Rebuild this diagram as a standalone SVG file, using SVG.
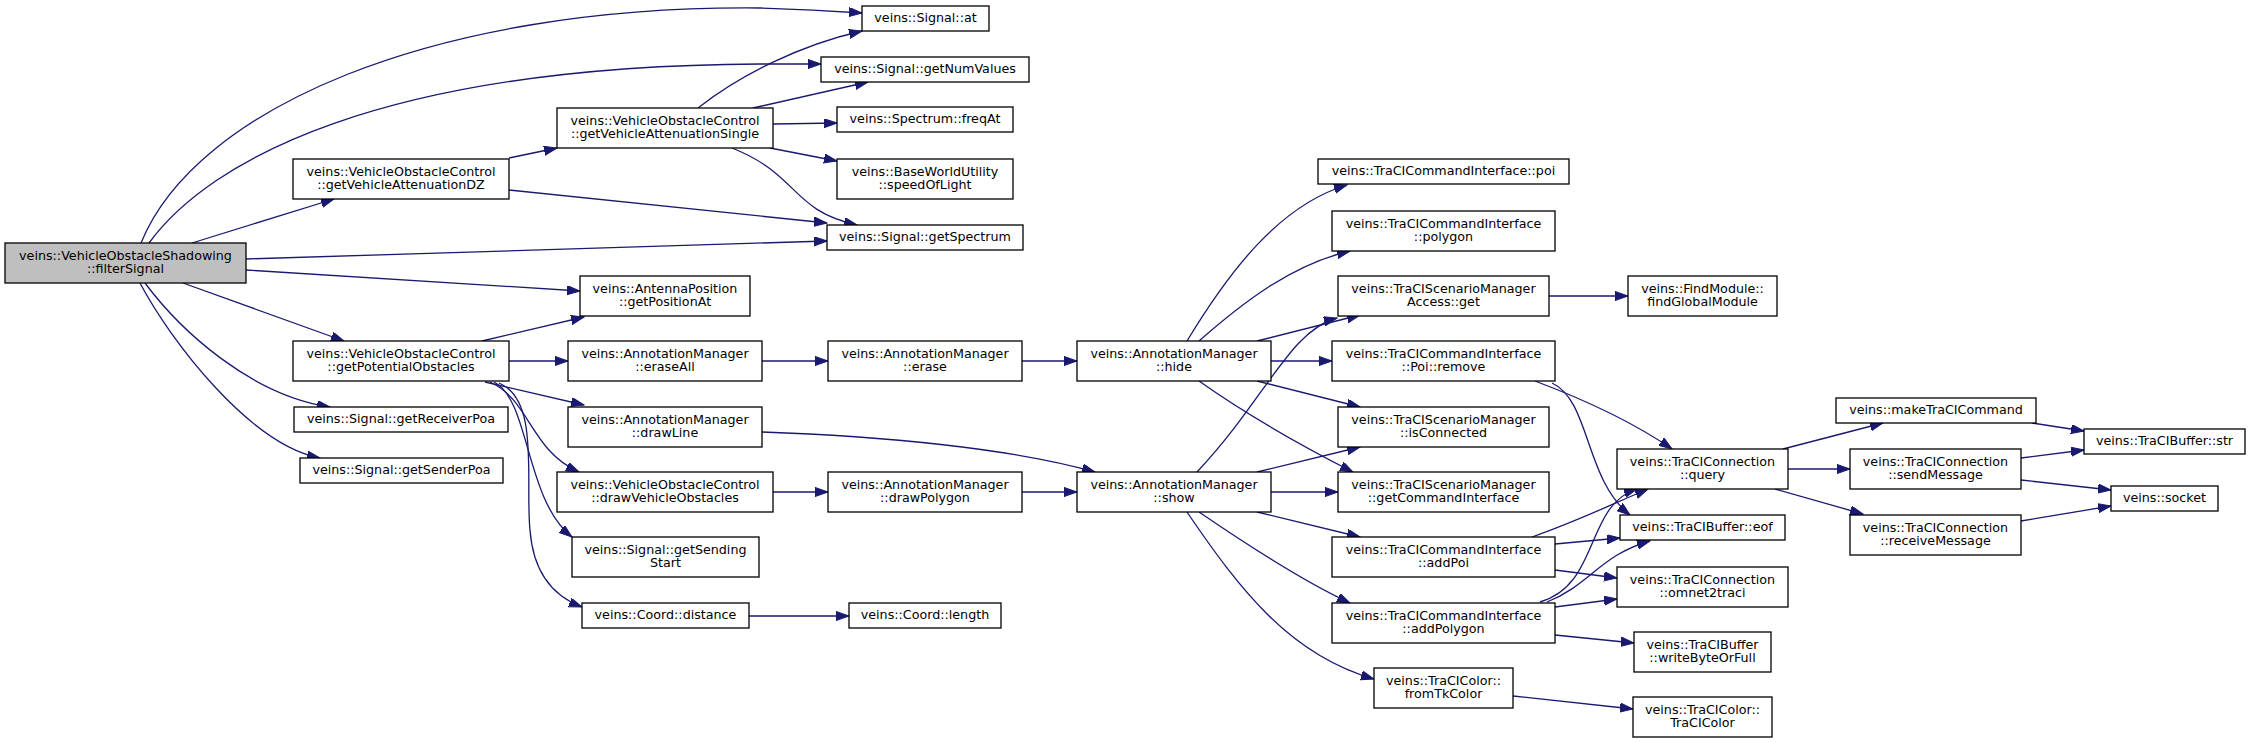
<svg xmlns="http://www.w3.org/2000/svg" width="2251" height="743" viewBox="0 0 2251 743">
<style>
.n rect{fill:#fff;stroke:#000;stroke-width:1.3}
.n.root rect{fill:#bfbfbf}
.n text{font-family:"DejaVu Sans","Liberation Sans",sans-serif;font-size:12.7px;fill:#000;text-anchor:middle}
.e path{fill:none;stroke:#191970;stroke-width:1.3;marker-end:url(#arr)}
</style>
<defs>
<marker id="arr" markerUnits="userSpaceOnUse" markerWidth="14" markerHeight="10" refX="13" refY="4.6" orient="auto">
<path d="M0,0 L13,4.6 L0,9.2 z" fill="#191970" stroke="#191970" stroke-width="1"/>
</marker>
</defs>
<rect width="2251" height="743" fill="#fff"/>
<g id="connectors" class="e">
<path d="M141,243 C195,110 430,5 760,8 C800,9 835,11 862,13"/>
<path d="M149,243 C210,160 380,66 760,64 L821,64"/>
<path d="M192,243 L334,199"/>
<path d="M246,259 L827,241"/>
<path d="M246,270 L580,291"/>
<path d="M183,283 L344,341"/>
<path d="M145,283 C180,330 250,395 330,407"/>
<path d="M140,283 C170,340 250,445 320,458"/>
<path d="M509,158 L557,148"/>
<path d="M509,190 L827,223"/>
<path d="M698,108 C740,75 800,45 862,31"/>
<path d="M753,108 L868,82"/>
<path d="M773,124 L837,123"/>
<path d="M770,148 L837,161"/>
<path d="M732,148 C800,175 790,210 857,225"/>
<path d="M482,341 L584,317"/>
<path d="M509,361 L568,361"/>
<path d="M485,382 L584,405"/>
<path d="M490,382 C530,400 530,450 579,472"/>
<path d="M494,382 C530,400 525,500 572,537"/>
<path d="M499,383 C540,400 525,480 530,530 C533,570 550,595 582,607"/>
<path d="M762,361 L828,361"/>
<path d="M1022,361 L1077,361"/>
<path d="M762,432 C880,436 1010,448 1095,472"/>
<path d="M773,492 L828,492"/>
<path d="M1022,492 L1077,492"/>
<path d="M749,616 L849,616"/>
<path d="M1187,341 C1230,270 1280,205 1347,185"/>
<path d="M1199,341 C1240,305 1290,265 1350,251"/>
<path d="M1257,341 L1360,315"/>
<path d="M1271,361 L1332,361"/>
<path d="M1257,381 L1360,407"/>
<path d="M1199,381 C1240,410 1300,445 1353,472"/>
<path d="M1197,472 C1265,400 1290,330 1337,318"/>
<path d="M1257,472 L1360,447"/>
<path d="M1271,492 L1338,492"/>
<path d="M1257,512 L1360,537"/>
<path d="M1199,512 C1240,540 1300,580 1350,603"/>
<path d="M1187,512 C1240,590 1290,655 1374,679"/>
<path d="M1535,381 C1580,398 1630,420 1672,449"/>
<path d="M1552,383 C1590,400 1585,480 1630,515"/>
<path d="M1532,537 C1580,520 1610,505 1648,489"/>
<path d="M1555,544 L1620,538"/>
<path d="M1555,570 L1617,578"/>
<path d="M1540,602 C1600,585 1585,505 1637,489"/>
<path d="M1547,602 C1590,585 1600,555 1650,541"/>
<path d="M1555,607 L1617,599"/>
<path d="M1555,635 L1634,643"/>
<path d="M1513,696 L1633,709"/>
<path d="M1783,449 L1883,423"/>
<path d="M1788,469 L1850,469"/>
<path d="M1775,489 L1863,514"/>
<path d="M2032,423 L2084,431"/>
<path d="M2021,458 L2084,450"/>
<path d="M2021,480 L2111,490"/>
<path d="M2021,521 L2111,506"/>
<path d="M1549,296 L1628,296"/>
</g>
<g id="n_filterSignal" class="n root"><rect x="5" y="243" width="241" height="40"/><text x="125.5" y="259.5">veins::VehicleObstacleShadowing</text><text x="125.5" y="273">::filterSignal</text></g>
<g id="n_attDZ" class="n"><rect x="293" y="159" width="216" height="40"/><text x="401" y="175.5">veins::VehicleObstacleControl</text><text x="401" y="189">::getVehicleAttenuationDZ</text></g>
<g id="n_attSingle" class="n"><rect x="557" y="108" width="216" height="40"/><text x="665" y="124.5">veins::VehicleObstacleControl</text><text x="665" y="138">::getVehicleAttenuationSingle</text></g>
<g id="n_at" class="n"><rect x="862" y="6" width="127" height="25"/><text x="925.5" y="22">veins::Signal::at</text></g>
<g id="n_numValues" class="n"><rect x="821" y="57" width="208" height="25"/><text x="925" y="73">veins::Signal::getNumValues</text></g>
<g id="n_freqAt" class="n"><rect x="837" y="107" width="176" height="25"/><text x="925" y="123">veins::Spectrum::freqAt</text></g>
<g id="n_speedOfLight" class="n"><rect x="837" y="159" width="176" height="40"/><text x="925" y="175.5">veins::BaseWorldUtility</text><text x="925" y="189">::speedOfLight</text></g>
<g id="n_getSpectrum" class="n"><rect x="827" y="225" width="196" height="25"/><text x="925" y="241">veins::Signal::getSpectrum</text></g>
<g id="n_antenna" class="n"><rect x="580" y="276" width="170" height="40"/><text x="665" y="292.5">veins::AntennaPosition</text><text x="665" y="306">::getPositionAt</text></g>
<g id="n_potObst" class="n"><rect x="293" y="341" width="216" height="40"/><text x="401" y="357.5">veins::VehicleObstacleControl</text><text x="401" y="371">::getPotentialObstacles</text></g>
<g id="n_eraseAll" class="n"><rect x="568" y="341" width="194" height="40"/><text x="665" y="357.5">veins::AnnotationManager</text><text x="665" y="371">::eraseAll</text></g>
<g id="n_receiverPoa" class="n"><rect x="294" y="407" width="214" height="25"/><text x="401" y="423">veins::Signal::getReceiverPoa</text></g>
<g id="n_senderPoa" class="n"><rect x="300" y="458" width="203" height="25"/><text x="401.5" y="474">veins::Signal::getSenderPoa</text></g>
<g id="n_drawLine" class="n"><rect x="568" y="407" width="194" height="40"/><text x="665" y="423.5">veins::AnnotationManager</text><text x="665" y="437">::drawLine</text></g>
<g id="n_drawVehObs" class="n"><rect x="557" y="472" width="216" height="40"/><text x="665" y="488.5">veins::VehicleObstacleControl</text><text x="665" y="502">::drawVehicleObstacles</text></g>
<g id="n_sendingStart" class="n"><rect x="572" y="537" width="187" height="40"/><text x="665.5" y="553.5">veins::Signal::getSending</text><text x="665.5" y="567">Start</text></g>
<g id="n_distance" class="n"><rect x="582" y="603" width="167" height="25"/><text x="665.5" y="619">veins::Coord::distance</text></g>
<g id="n_length" class="n"><rect x="849" y="603" width="152" height="25"/><text x="925" y="619">veins::Coord::length</text></g>
<g id="n_erase" class="n"><rect x="828" y="341" width="194" height="40"/><text x="925" y="357.5">veins::AnnotationManager</text><text x="925" y="371">::erase</text></g>
<g id="n_drawPolygon" class="n"><rect x="828" y="472" width="194" height="40"/><text x="925" y="488.5">veins::AnnotationManager</text><text x="925" y="502">::drawPolygon</text></g>
<g id="n_hide" class="n"><rect x="1077" y="341" width="194" height="40"/><text x="1174" y="357.5">veins::AnnotationManager</text><text x="1174" y="371">::hide</text></g>
<g id="n_show" class="n"><rect x="1077" y="472" width="194" height="40"/><text x="1174" y="488.5">veins::AnnotationManager</text><text x="1174" y="502">::show</text></g>
<g id="n_poi" class="n"><rect x="1318" y="159" width="251" height="25"/><text x="1443.5" y="175">veins::TraCICommandInterface::poi</text></g>
<g id="n_polygon" class="n"><rect x="1332" y="211" width="223" height="40"/><text x="1443.5" y="227.5">veins::TraCICommandInterface</text><text x="1443.5" y="241">::polygon</text></g>
<g id="n_smaGet" class="n"><rect x="1338" y="276" width="211" height="40"/><text x="1443.5" y="292.5">veins::TraCIScenarioManager</text><text x="1443.5" y="306">Access::get</text></g>
<g id="n_findGlobal" class="n"><rect x="1628" y="276" width="149" height="40"/><text x="1702.5" y="292.5">veins::FindModule::</text><text x="1702.5" y="306">findGlobalModule</text></g>
<g id="n_poiRemove" class="n"><rect x="1332" y="341" width="223" height="40"/><text x="1443.5" y="357.5">veins::TraCICommandInterface</text><text x="1443.5" y="371">::Poi::remove</text></g>
<g id="n_isConnected" class="n"><rect x="1338" y="407" width="211" height="40"/><text x="1443.5" y="423.5">veins::TraCIScenarioManager</text><text x="1443.5" y="437">::isConnected</text></g>
<g id="n_getCmdIf" class="n"><rect x="1338" y="472" width="211" height="40"/><text x="1443.5" y="488.5">veins::TraCIScenarioManager</text><text x="1443.5" y="502">::getCommandInterface</text></g>
<g id="n_addPoi" class="n"><rect x="1332" y="537" width="223" height="40"/><text x="1443.5" y="553.5">veins::TraCICommandInterface</text><text x="1443.5" y="567">::addPoi</text></g>
<g id="n_addPolygon" class="n"><rect x="1332" y="603" width="223" height="40"/><text x="1443.5" y="619.5">veins::TraCICommandInterface</text><text x="1443.5" y="633">::addPolygon</text></g>
<g id="n_fromTk" class="n"><rect x="1374" y="668" width="139" height="40"/><text x="1443.5" y="684.5">veins::TraCIColor::</text><text x="1443.5" y="698">fromTkColor</text></g>
<g id="n_query" class="n"><rect x="1617" y="449" width="171" height="40"/><text x="1702.5" y="465.5">veins::TraCIConnection</text><text x="1702.5" y="479">::query</text></g>
<g id="n_eof" class="n"><rect x="1620" y="515" width="165" height="25"/><text x="1702.5" y="531">veins::TraCIBuffer::eof</text></g>
<g id="n_omnet2traci" class="n"><rect x="1617" y="567" width="171" height="40"/><text x="1702.5" y="583.5">veins::TraCIConnection</text><text x="1702.5" y="597">::omnet2traci</text></g>
<g id="n_writeByte" class="n"><rect x="1634" y="632" width="137" height="40"/><text x="1702.5" y="648.5">veins::TraCIBuffer</text><text x="1702.5" y="662">::writeByteOrFull</text></g>
<g id="n_traciColor" class="n"><rect x="1633" y="697" width="139" height="40"/><text x="1702.5" y="713.5">veins::TraCIColor::</text><text x="1702.5" y="727">TraCIColor</text></g>
<g id="n_makeCmd" class="n"><rect x="1836" y="398" width="200" height="25"/><text x="1936" y="414">veins::makeTraCICommand</text></g>
<g id="n_sendMsg" class="n"><rect x="1850" y="449" width="171" height="40"/><text x="1935.5" y="465.5">veins::TraCIConnection</text><text x="1935.5" y="479">::sendMessage</text></g>
<g id="n_recvMsg" class="n"><rect x="1850" y="515" width="171" height="40"/><text x="1935.5" y="531.5">veins::TraCIConnection</text><text x="1935.5" y="545">::receiveMessage</text></g>
<g id="n_str" class="n"><rect x="2084" y="429" width="161" height="25"/><text x="2164.5" y="445">veins::TraCIBuffer::str</text></g>
<g id="n_socket" class="n"><rect x="2111" y="486" width="107" height="25"/><text x="2164.5" y="502">veins::socket</text></g>
</svg>
